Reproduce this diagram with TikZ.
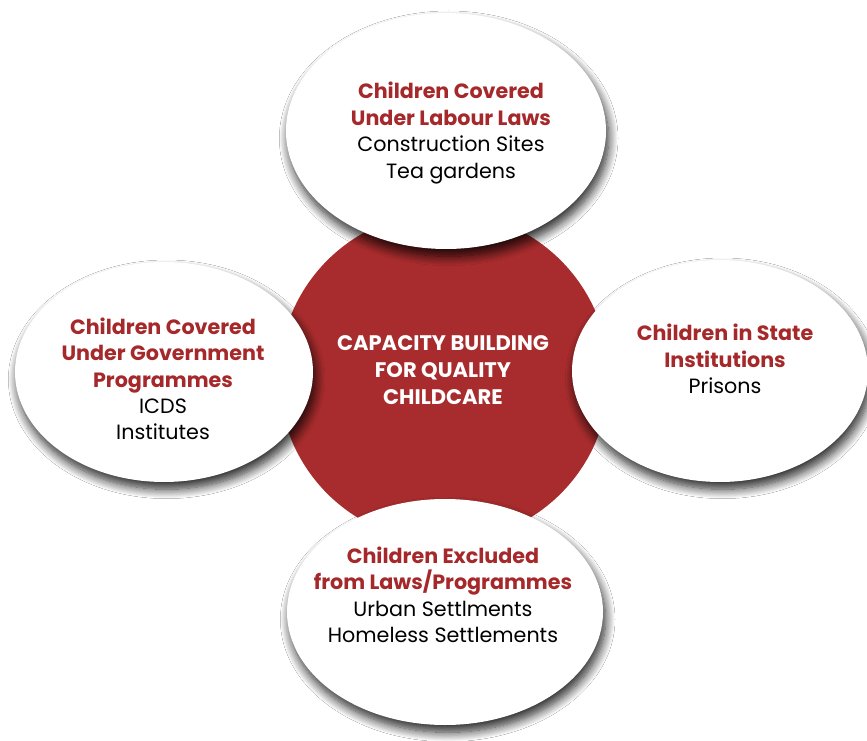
\documentclass[tikz,border=0pt]{standalone}
\usepackage{fontspec}
\setmainfont{Poppins}
\usetikzlibrary{shapes.geometric,shadows.blur}
\definecolor{cred}{RGB}{168,44,45}
\definecolor{ttlred}{RGB}{165,40,42}
\newcommand{\ttl}[1]{\textcolor{ttlred}{\bfseries #1}}
\begin{document}
\begin{tikzpicture}[x=0.75pt,y=-0.75pt,
  bubble/.style={ellipse, fill=white, inner sep=0pt,
    blur shadow={shadow xshift=2pt, shadow yshift=-5.5pt, shadow blur steps=12,
      shadow blur radius=7pt, shadow opacity=85}},
  btext/.style={align=center, font=\fontsize{15.5}{19.8}\selectfont, text=black, inner sep=0pt},
  ctext/.style={align=center, font=\fontsize{15.8}{20}\selectfont\bfseries, text=white, inner sep=0pt}
]
\useasboundingbox (0,0) rectangle (867,741);
\fill[white] (0,0) rectangle (867,741);
\node[circle, fill=cred, minimum size=247.5pt, inner sep=0pt] (hub) at (444,377) {};
\node[bubble, minimum width=240pt, minimum height=177pt] (top) at (446,131) {};
\node[bubble, minimum width=223.5pt, minimum height=165pt] (left) at (164,372) {};
\node[bubble, minimum width=222pt, minimum height=166.5pt] (right) at (720,371) {};
\node[bubble, minimum width=237pt, minimum height=169.5pt] (bottom) at (445,612) {};
\node[ctext] (hubtext) at (443,370) {CAPACITY BUILDING\\FOR QUALITY\\CHILDCARE};
\node[btext] (toptext) at (451,133) {\ttl{Children Covered}\\\ttl{Under Labour Laws}\\Construction Sites\\Tea gardens};
\node[btext] (lefttext) at (163,379) {\ttl{Children Covered}\\\ttl{Under Government}\\\ttl{Programmes}\\ICDS\\Institutes};
\node[btext] (righttext) at (725,359) {\ttl{Children in State}\\\ttl{Institutions}\\Prisons};
\node[btext] (bottomtext) at (443,595) {\ttl{Children Excluded}\\\ttl{from Laws/Programmes}\\Urban Settlments\\Homeless Settlements};
\end{tikzpicture}
\end{document}
